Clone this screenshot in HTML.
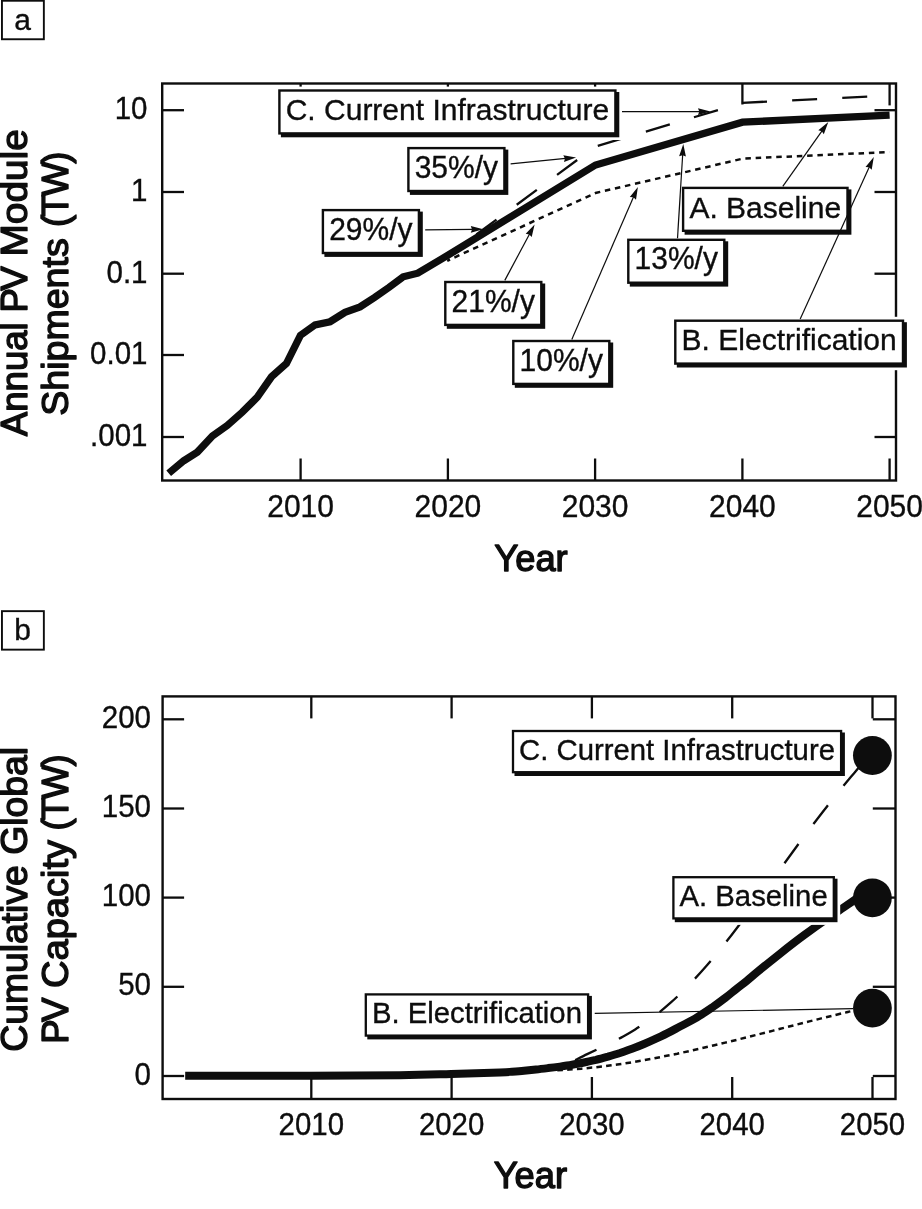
<!DOCTYPE html>
<html><head><meta charset="utf-8"><title>PV growth scenarios</title>
<style>
html,body{margin:0;padding:0;background:#fff}
svg{display:block}
text{font-family:"Liberation Sans",sans-serif;fill:#0d0d0d;stroke:#0d0d0d;stroke-width:0.35px}
.ttl{stroke:#0d0d0d;stroke-width:1.4px;stroke-linejoin:round}
</style></head><body>
<svg width="922" height="1209" viewBox="0 0 922 1209">
<rect width="922" height="1209" fill="#fff"/>
<rect x="1.95" y="0.75" width="41.9" height="38.5" fill="#fff" stroke="#0d0d0d" stroke-width="1.9"/>
<text transform="translate(22.5,29.9) scale(1,1.0)" font-size="30.0" text-anchor="middle">a</text>
<line x1="300.6" y1="480.5" x2="300.6" y2="458.5" stroke="#0d0d0d" stroke-width="2.3"/>
<line x1="300.6" y1="83.5" x2="300.6" y2="105.5" stroke="#0d0d0d" stroke-width="2.3"/>
<line x1="447.9" y1="480.5" x2="447.9" y2="458.5" stroke="#0d0d0d" stroke-width="2.3"/>
<line x1="447.9" y1="83.5" x2="447.9" y2="105.5" stroke="#0d0d0d" stroke-width="2.3"/>
<line x1="595.1" y1="480.5" x2="595.1" y2="458.5" stroke="#0d0d0d" stroke-width="2.3"/>
<line x1="595.1" y1="83.5" x2="595.1" y2="105.5" stroke="#0d0d0d" stroke-width="2.3"/>
<line x1="742.4" y1="480.5" x2="742.4" y2="458.5" stroke="#0d0d0d" stroke-width="2.3"/>
<line x1="742.4" y1="83.5" x2="742.4" y2="104.5" stroke="#0d0d0d" stroke-width="2.3"/>
<line x1="889.6" y1="480.5" x2="889.6" y2="458.5" stroke="#0d0d0d" stroke-width="2.3"/>
<line x1="889.6" y1="83.5" x2="889.6" y2="105.4" stroke="#0d0d0d" stroke-width="2.3"/>
<line x1="162.2" y1="110.2" x2="184.0" y2="110.2" stroke="#0d0d0d" stroke-width="2.3"/>
<line x1="896.0" y1="110.2" x2="874.5" y2="110.2" stroke="#0d0d0d" stroke-width="2.3"/>
<text transform="translate(147.5,119.2) scale(1,1.07)" font-size="29.5" text-anchor="end">10</text>
<line x1="162.2" y1="192.0" x2="184.0" y2="192.0" stroke="#0d0d0d" stroke-width="2.3"/>
<line x1="896.0" y1="192.0" x2="874.5" y2="192.0" stroke="#0d0d0d" stroke-width="2.3"/>
<text transform="translate(147.5,201.0) scale(1,1.07)" font-size="29.5" text-anchor="end">1</text>
<line x1="162.2" y1="273.7" x2="184.0" y2="273.7" stroke="#0d0d0d" stroke-width="2.3"/>
<line x1="896.0" y1="273.7" x2="874.5" y2="273.7" stroke="#0d0d0d" stroke-width="2.3"/>
<text transform="translate(147.5,282.7) scale(1,1.07)" font-size="29.5" text-anchor="end">0.1</text>
<line x1="162.2" y1="355.0" x2="184.0" y2="355.0" stroke="#0d0d0d" stroke-width="2.3"/>
<line x1="896.0" y1="355.0" x2="874.5" y2="355.0" stroke="#0d0d0d" stroke-width="2.3"/>
<text transform="translate(147.5,364.0) scale(1,1.07)" font-size="29.5" text-anchor="end">0.01</text>
<line x1="162.2" y1="437.0" x2="184.0" y2="437.0" stroke="#0d0d0d" stroke-width="2.3"/>
<line x1="896.0" y1="437.0" x2="874.5" y2="437.0" stroke="#0d0d0d" stroke-width="2.3"/>
<text transform="translate(147.5,446.0) scale(1,1.07)" font-size="29.5" text-anchor="end">.001</text>
<text transform="translate(300.6,516.6) scale(1,1.07)" font-size="30.0" text-anchor="middle">2010</text>
<text transform="translate(447.9,516.6) scale(1,1.07)" font-size="30.0" text-anchor="middle">2020</text>
<text transform="translate(595.1,516.6) scale(1,1.07)" font-size="30.0" text-anchor="middle">2030</text>
<text transform="translate(742.4,516.6) scale(1,1.07)" font-size="30.0" text-anchor="middle">2040</text>
<text transform="translate(889.6,516.6) scale(1,1.07)" font-size="30.0" text-anchor="middle">2050</text>
<polyline points="447.2,260.8 595.5,193.0 743.0,158.6 889.5,152.0" fill="none" stroke="#0d0d0d" stroke-width="2.5" stroke-dasharray="5.5 4.8" stroke-dashoffset="2.4"/>
<polyline points="448.0,255.5 595.5,146.5 742.5,102.8 889.6,95.6" fill="none" stroke="#0d0d0d" stroke-width="2.3" stroke-dasharray="25 25.17" stroke-dashoffset="14.9"/>
<polyline points="168.7,473.3 183.7,460.8 197.4,452.1 212.4,435.9 227.3,425.4 242.3,412.2 257.3,397.2 271.5,376.8 286.4,363.6 300.4,335.4 315.1,324.9 330.1,321.7 345.0,312.4 360.0,306.9 374.5,297.5 389.0,287.4 403.2,276.8 417.8,273.2 448.0,255.2 595.5,165.0 742.5,122.2 889.6,115.2" fill="none" stroke="#0d0d0d" stroke-width="7.3" stroke-linejoin="miter"/>
<rect x="162.2" y="83.5" width="733.8" height="397.0" fill="none" stroke="#0d0d0d" stroke-width="2.4"/>
<rect x="275.5" y="86.6" width="346.5" height="53.4" fill="#fff"/>
<rect x="280.9" y="92.0" width="338.4" height="45.3" fill="#0d0d0d"/>
<rect x="279.4" y="90.5" width="336.0" height="42.9" fill="#fff" stroke="#0d0d0d" stroke-width="2.4"/>
<text transform="translate(285.7,120.1) scale(1,1.0)" font-size="30.0">C. Current Infrastructure</text>
<rect x="404.5" y="144.2" width="106.5" height="53.4" fill="#fff"/>
<rect x="409.9" y="149.6" width="98.4" height="45.3" fill="#0d0d0d"/>
<rect x="408.4" y="148.1" width="96.0" height="42.9" fill="#fff" stroke="#0d0d0d" stroke-width="2.4"/>
<text transform="translate(414.7,177.7) scale(1,1.07)" font-size="30.0">35%/y</text>
<rect x="319.0" y="206.2" width="106.5" height="53.4" fill="#fff"/>
<rect x="324.4" y="211.6" width="98.4" height="45.3" fill="#0d0d0d"/>
<rect x="322.9" y="210.1" width="96.0" height="42.9" fill="#fff" stroke="#0d0d0d" stroke-width="2.4"/>
<text transform="translate(329.2,239.7) scale(1,1.07)" font-size="30.0">29%/y</text>
<rect x="441.4" y="278.1" width="106.5" height="53.4" fill="#fff"/>
<rect x="446.8" y="283.5" width="98.4" height="45.3" fill="#0d0d0d"/>
<rect x="445.3" y="282.0" width="96.0" height="42.9" fill="#fff" stroke="#0d0d0d" stroke-width="2.4"/>
<text transform="translate(451.6,311.6) scale(1,1.07)" font-size="30.0">21%/y</text>
<rect x="509.4" y="337.1" width="106.5" height="53.4" fill="#fff"/>
<rect x="514.8" y="342.5" width="98.4" height="45.3" fill="#0d0d0d"/>
<rect x="513.3" y="341.0" width="96.0" height="42.9" fill="#fff" stroke="#0d0d0d" stroke-width="2.4"/>
<text transform="translate(519.6,370.6) scale(1,1.07)" font-size="30.0">10%/y</text>
<rect x="624.4" y="235.9" width="106.5" height="53.4" fill="#fff"/>
<rect x="629.8" y="241.3" width="98.4" height="45.3" fill="#0d0d0d"/>
<rect x="628.3" y="239.8" width="96.0" height="42.9" fill="#fff" stroke="#0d0d0d" stroke-width="2.4"/>
<text transform="translate(634.6,269.4) scale(1,1.07)" font-size="30.0">13%/y</text>
<rect x="679.2" y="184.0" width="174.9" height="53.4" fill="#fff"/>
<rect x="684.6" y="189.4" width="166.8" height="45.3" fill="#0d0d0d"/>
<rect x="683.1" y="187.9" width="164.4" height="42.9" fill="#fff" stroke="#0d0d0d" stroke-width="2.4"/>
<text transform="translate(689.4,217.5) scale(1,1.0)" font-size="30.0">A. Baseline</text>
<rect x="671.4" y="316.8" width="238.2" height="53.4" fill="#fff"/>
<rect x="676.8" y="322.2" width="230.1" height="45.3" fill="#0d0d0d"/>
<rect x="675.3" y="320.7" width="227.7" height="42.9" fill="#fff" stroke="#0d0d0d" stroke-width="2.4"/>
<text transform="translate(681.6,350.3) scale(1,1.0)" font-size="30.0">B. Electrification</text>
<line x1="622.0" y1="111.6" x2="700.0" y2="111.6" stroke="#0d0d0d" stroke-width="1.2"/>
<polygon points="710.5,111.6 698.0,115.0 699.2,111.6 698.0,108.2" fill="#0d0d0d"/>
<line x1="510.6" y1="163.8" x2="565.6" y2="158.4" stroke="#0d0d0d" stroke-width="1.2"/>
<polygon points="576.1,157.4 564.0,162.0 564.9,158.5 563.3,155.2" fill="#0d0d0d"/>
<line x1="425.2" y1="229.9" x2="472.8" y2="229.4" stroke="#0d0d0d" stroke-width="1.2"/>
<polygon points="483.3,229.3 470.8,232.8 472.0,229.4 470.8,226.0" fill="#0d0d0d"/>
<line x1="504.8" y1="280.4" x2="529.7" y2="233.7" stroke="#0d0d0d" stroke-width="1.2"/>
<polygon points="534.6,224.4 531.7,237.0 529.3,234.4 525.7,233.8" fill="#0d0d0d"/>
<line x1="571.8" y1="339.4" x2="633.7" y2="196.5" stroke="#0d0d0d" stroke-width="1.2"/>
<polygon points="637.9,186.9 636.0,199.7 633.4,197.3 629.8,197.0" fill="#0d0d0d"/>
<line x1="677.5" y1="238.2" x2="682.7" y2="154.4" stroke="#0d0d0d" stroke-width="1.2"/>
<polygon points="683.3,143.9 685.9,156.6 682.6,155.2 679.1,156.2" fill="#0d0d0d"/>
<line x1="782.8" y1="186.3" x2="822.2" y2="130.7" stroke="#0d0d0d" stroke-width="1.2"/>
<polygon points="828.3,122.1 823.8,134.3 821.8,131.3 818.3,130.3" fill="#0d0d0d"/>
<line x1="800.2" y1="319.1" x2="869.5" y2="166.6" stroke="#0d0d0d" stroke-width="1.2"/>
<polygon points="873.8,157.0 871.7,169.8 869.1,167.3 865.5,167.0" fill="#0d0d0d"/>
<text transform="translate(531.0,571.4) scale(1,1.0)" font-size="36.3" text-anchor="middle" class="ttl">Year</text>
<text transform="translate(27.0,436.2) rotate(-90) scale(1,1.0)" font-size="36.6" class="ttl">Annual</text>
<text transform="translate(27.0,312.4) rotate(-90) scale(1,1.0)" font-size="36.6" class="ttl" letter-spacing="-2.7">PV</text>
<text transform="translate(27.0,256.5) rotate(-90) scale(1,0.95)" font-size="38.8" class="ttl">Module</text>
<text transform="translate(68.3,415.8) rotate(-90) scale(1,0.985)" font-size="37.6" class="ttl">Shipments</text>
<text transform="translate(68.3,226.9) rotate(-90) scale(1,1.0)" font-size="36.5" class="ttl" letter-spacing="-1.9">(TW)</text>
<rect x="1.95" y="611.15" width="41.9" height="38.5" fill="#fff" stroke="#0d0d0d" stroke-width="1.9"/>
<text transform="translate(22.5,640.3) scale(1,1.0)" font-size="30.0" text-anchor="middle">b</text>
<line x1="311.3" y1="1099.0" x2="311.3" y2="1077.0" stroke="#0d0d0d" stroke-width="2.3"/>
<line x1="311.3" y1="696.4" x2="311.3" y2="718.4" stroke="#0d0d0d" stroke-width="2.3"/>
<text transform="translate(311.3,1134.6) scale(1,1.07)" font-size="29.4" text-anchor="middle">2010</text>
<line x1="451.6" y1="1099.0" x2="451.6" y2="1077.0" stroke="#0d0d0d" stroke-width="2.3"/>
<line x1="451.6" y1="696.4" x2="451.6" y2="718.4" stroke="#0d0d0d" stroke-width="2.3"/>
<text transform="translate(451.6,1134.6) scale(1,1.07)" font-size="29.4" text-anchor="middle">2020</text>
<line x1="591.9" y1="1099.0" x2="591.9" y2="1077.0" stroke="#0d0d0d" stroke-width="2.3"/>
<line x1="591.9" y1="696.4" x2="591.9" y2="718.4" stroke="#0d0d0d" stroke-width="2.3"/>
<text transform="translate(591.9,1134.6) scale(1,1.07)" font-size="29.4" text-anchor="middle">2030</text>
<line x1="732.2" y1="1099.0" x2="732.2" y2="1077.0" stroke="#0d0d0d" stroke-width="2.3"/>
<line x1="732.2" y1="696.4" x2="732.2" y2="718.4" stroke="#0d0d0d" stroke-width="2.3"/>
<text transform="translate(732.2,1134.6) scale(1,1.07)" font-size="29.4" text-anchor="middle">2040</text>
<line x1="872.5" y1="1099.0" x2="872.5" y2="1077.0" stroke="#0d0d0d" stroke-width="2.3"/>
<line x1="872.5" y1="696.4" x2="872.5" y2="718.4" stroke="#0d0d0d" stroke-width="2.3"/>
<text transform="translate(872.5,1134.6) scale(1,1.07)" font-size="29.4" text-anchor="middle">2050</text>
<line x1="162.6" y1="1076.0" x2="184.1" y2="1076.0" stroke="#0d0d0d" stroke-width="2.3"/>
<line x1="895.5" y1="1076.0" x2="872.8" y2="1076.0" stroke="#0d0d0d" stroke-width="2.3"/>
<text transform="translate(151.0,1084.6) scale(1,1.07)" font-size="29.5" text-anchor="end">0</text>
<line x1="162.6" y1="986.8" x2="184.1" y2="986.8" stroke="#0d0d0d" stroke-width="2.3"/>
<line x1="895.5" y1="986.8" x2="872.8" y2="986.8" stroke="#0d0d0d" stroke-width="2.3"/>
<text transform="translate(151.0,995.4) scale(1,1.07)" font-size="29.5" text-anchor="end">50</text>
<line x1="162.6" y1="897.6" x2="184.1" y2="897.6" stroke="#0d0d0d" stroke-width="2.3"/>
<line x1="895.5" y1="897.6" x2="872.8" y2="897.6" stroke="#0d0d0d" stroke-width="2.3"/>
<text transform="translate(151.0,906.2) scale(1,1.07)" font-size="29.5" text-anchor="end">100</text>
<line x1="162.6" y1="808.5" x2="184.1" y2="808.5" stroke="#0d0d0d" stroke-width="2.3"/>
<line x1="895.5" y1="808.5" x2="872.8" y2="808.5" stroke="#0d0d0d" stroke-width="2.3"/>
<text transform="translate(151.0,817.1) scale(1,1.07)" font-size="29.5" text-anchor="end">150</text>
<line x1="162.6" y1="719.3" x2="184.1" y2="719.3" stroke="#0d0d0d" stroke-width="2.3"/>
<line x1="895.5" y1="719.3" x2="872.8" y2="719.3" stroke="#0d0d0d" stroke-width="2.3"/>
<text transform="translate(151.0,727.9) scale(1,1.07)" font-size="29.5" text-anchor="end">200</text>
<line x1="594.3" y1="1013.4" x2="853.0" y2="1008.6" stroke="#0d0d0d" stroke-width="1.2"/>
<path d="M557.3,1070.2 C559.3,1070.1 565.3,1069.8 569.3,1069.6 C573.3,1069.3 577.3,1069.0 581.3,1068.7 C585.3,1068.3 589.3,1067.9 593.3,1067.5 C597.3,1067.1 601.3,1066.6 605.3,1066.1 C609.3,1065.6 613.3,1065.0 617.3,1064.5 C621.3,1063.9 625.3,1063.3 629.3,1062.7 C633.3,1062.0 637.3,1061.3 641.3,1060.6 C645.3,1059.9 649.3,1059.2 653.3,1058.5 C657.3,1057.7 661.3,1056.9 665.3,1056.1 C669.3,1055.3 673.3,1054.5 677.3,1053.7 C681.3,1052.8 685.3,1051.9 689.3,1051.1 C693.3,1050.2 697.3,1049.3 701.3,1048.3 C705.3,1047.4 709.3,1046.5 713.3,1045.5 C717.3,1044.6 721.3,1043.6 725.3,1042.6 C729.3,1041.7 733.3,1040.7 737.3,1039.7 C741.3,1038.7 745.3,1037.7 749.3,1036.7 C753.3,1035.7 757.3,1034.7 761.3,1033.6 C765.3,1032.6 769.3,1031.6 773.3,1030.6 C777.3,1029.6 781.3,1028.5 785.3,1027.5 C789.3,1026.5 793.3,1025.5 797.3,1024.4 C801.3,1023.4 805.3,1022.4 809.3,1021.4 C813.3,1020.4 817.3,1019.4 821.3,1018.4 C825.3,1017.4 829.3,1016.4 833.3,1015.5 C837.3,1014.5 842.2,1013.3 845.3,1012.6 C848.4,1011.9 847.5,1012.0 852.0,1011.0 C856.5,1010.1 868.7,1007.7 872.0,1007.0" fill="none" stroke="#0d0d0d" stroke-width="2.5" stroke-dasharray="5.6 4.2"/>
<path d="M575.2,1060.1 C577.2,1059.1 583.2,1056.0 587.2,1054.1 C591.2,1052.2 595.2,1050.3 599.2,1048.4 C603.2,1046.5 607.2,1044.7 611.2,1042.6 C615.2,1040.6 619.2,1038.6 623.2,1036.4 C627.2,1034.2 631.2,1031.9 635.2,1029.4 C639.2,1026.9 643.2,1024.2 647.2,1021.4 C651.2,1018.6 655.2,1015.6 659.2,1012.4 C663.2,1009.2 667.2,1005.8 671.2,1002.2 C675.2,998.6 679.2,994.8 683.2,990.9 C687.2,986.9 691.2,982.7 695.2,978.4 C699.2,974.1 703.2,969.6 707.2,965.0 C711.2,960.3 715.2,955.5 719.2,950.6 C723.2,945.7 727.2,940.6 731.2,935.5 C735.2,930.3 739.2,925.0 743.2,919.7 C747.2,914.4 751.2,909.0 755.2,903.5 C759.2,898.1 763.2,892.5 767.2,887.0 C771.2,881.5 775.2,876.0 779.2,870.5 C783.2,865.0 787.2,859.4 791.2,854.0 C795.2,848.5 799.2,843.0 803.2,837.7 C807.2,832.3 811.2,826.9 815.2,821.7 C819.2,816.4 823.2,811.3 827.2,806.2 C831.2,801.1 835.2,796.0 839.2,791.1 C843.2,786.2 848.0,780.4 851.2,776.5 C854.4,772.7 854.9,772.3 858.4,768.0 C861.9,763.7 870.1,753.8 872.5,751.0" fill="none" stroke="#0d0d0d" stroke-width="2.3" stroke-dasharray="23.7 25"/>
<path d="M185.2,1075.8 C206.2,1075.8 275.2,1075.9 311.0,1075.8 C346.8,1075.7 376.7,1075.5 400.0,1075.2 C423.3,1074.9 434.3,1074.4 451.0,1073.9 C467.7,1073.4 489.8,1072.8 500.0,1072.4 C510.2,1072.0 508.0,1072.0 512.0,1071.7 C516.0,1071.4 520.0,1071.1 524.0,1070.7 C528.0,1070.3 532.0,1069.9 536.0,1069.5 C540.0,1069.1 544.0,1068.6 548.0,1068.1 C552.0,1067.7 556.0,1067.2 560.0,1066.6 C564.0,1066.0 568.0,1065.4 572.0,1064.7 C576.0,1064.0 580.0,1063.3 584.0,1062.5 C588.0,1061.7 592.0,1060.8 596.0,1059.9 C600.0,1058.9 604.0,1057.8 608.0,1056.7 C612.0,1055.5 616.0,1054.3 620.0,1053.0 C624.0,1051.6 628.0,1050.2 632.0,1048.7 C636.0,1047.3 640.0,1045.7 644.0,1044.0 C648.0,1042.4 652.0,1040.6 656.0,1038.7 C660.0,1036.9 664.0,1034.9 668.0,1032.9 C672.0,1030.9 675.5,1028.9 680.0,1026.5 C684.5,1024.1 689.5,1021.8 695.0,1018.6 C700.5,1015.4 707.8,1010.4 712.8,1007.0 C717.8,1003.6 721.3,1000.9 725.1,998.0 C728.9,995.1 732.0,992.5 735.6,989.6 C739.2,986.7 743.0,983.9 746.8,980.8 C750.6,977.7 752.6,975.9 758.3,971.2 C764.0,966.5 773.5,958.8 781.1,952.8 C788.7,946.8 796.3,940.9 803.9,935.3 C811.5,929.7 819.5,924.0 826.7,919.0 C833.9,914.0 841.7,908.8 847.2,905.0 C852.8,901.2 855.9,898.8 860.0,896.0 C864.1,893.2 870.0,889.3 872.0,888.0" fill="none" stroke="#0d0d0d" stroke-width="8"/>
<circle cx="872.4" cy="755.5" r="19.4" fill="#0d0d0d"/>
<circle cx="872.4" cy="897.8" r="19.4" fill="#0d0d0d"/>
<circle cx="872.4" cy="1008.1" r="19.4" fill="#0d0d0d"/>
<rect x="162.6" y="696.4" width="732.9" height="402.6" fill="none" stroke="#0d0d0d" stroke-width="2.4"/>
<rect x="509.2" y="727.2" width="338.4" height="51.5" fill="#fff"/>
<rect x="514.5" y="732.5" width="330.4" height="43.5" fill="#0d0d0d"/>
<rect x="513.0" y="731.0" width="328.1" height="41.2" fill="#fff" stroke="#0d0d0d" stroke-width="2.3"/>
<text transform="translate(519.1,759.5) scale(1,1.0)" font-size="29.3">C. Current Infrastructure</text>
<rect x="669.5" y="873.4" width="170.7" height="51.5" fill="#fff"/>
<rect x="674.8" y="878.7" width="162.7" height="43.5" fill="#0d0d0d"/>
<rect x="673.4" y="877.2" width="160.4" height="41.2" fill="#fff" stroke="#0d0d0d" stroke-width="2.3"/>
<text transform="translate(679.5,905.7) scale(1,1.0)" font-size="29.3">A. Baseline</text>
<rect x="362.0" y="990.6" width="232.6" height="51.5" fill="#fff"/>
<rect x="367.3" y="995.9" width="224.6" height="43.5" fill="#0d0d0d"/>
<rect x="365.8" y="994.4" width="222.3" height="41.2" fill="#fff" stroke="#0d0d0d" stroke-width="2.3"/>
<text transform="translate(371.9,1022.9) scale(1,1.0)" font-size="29.3">B. Electrification</text>
<text transform="translate(530.4,1188.4) scale(1,1.0)" font-size="36.3" text-anchor="middle" class="ttl">Year</text>
<text transform="translate(27.0,899.4) rotate(-90) scale(1,1.0)" font-size="37.3" text-anchor="middle" class="ttl">Cumulative Global</text>
<text transform="translate(68.3,1043.7) rotate(-90) scale(1,1.0)" font-size="36.6" class="ttl" letter-spacing="-2.7">PV</text>
<text transform="translate(68.3,988.0) rotate(-90) scale(1,0.965)" font-size="38.1" class="ttl">Capacity</text>
<text transform="translate(68.3,830.6) rotate(-90) scale(1,1.0)" font-size="36.5" class="ttl" letter-spacing="-1.6">(TW)</text>
</svg>
</body></html>
